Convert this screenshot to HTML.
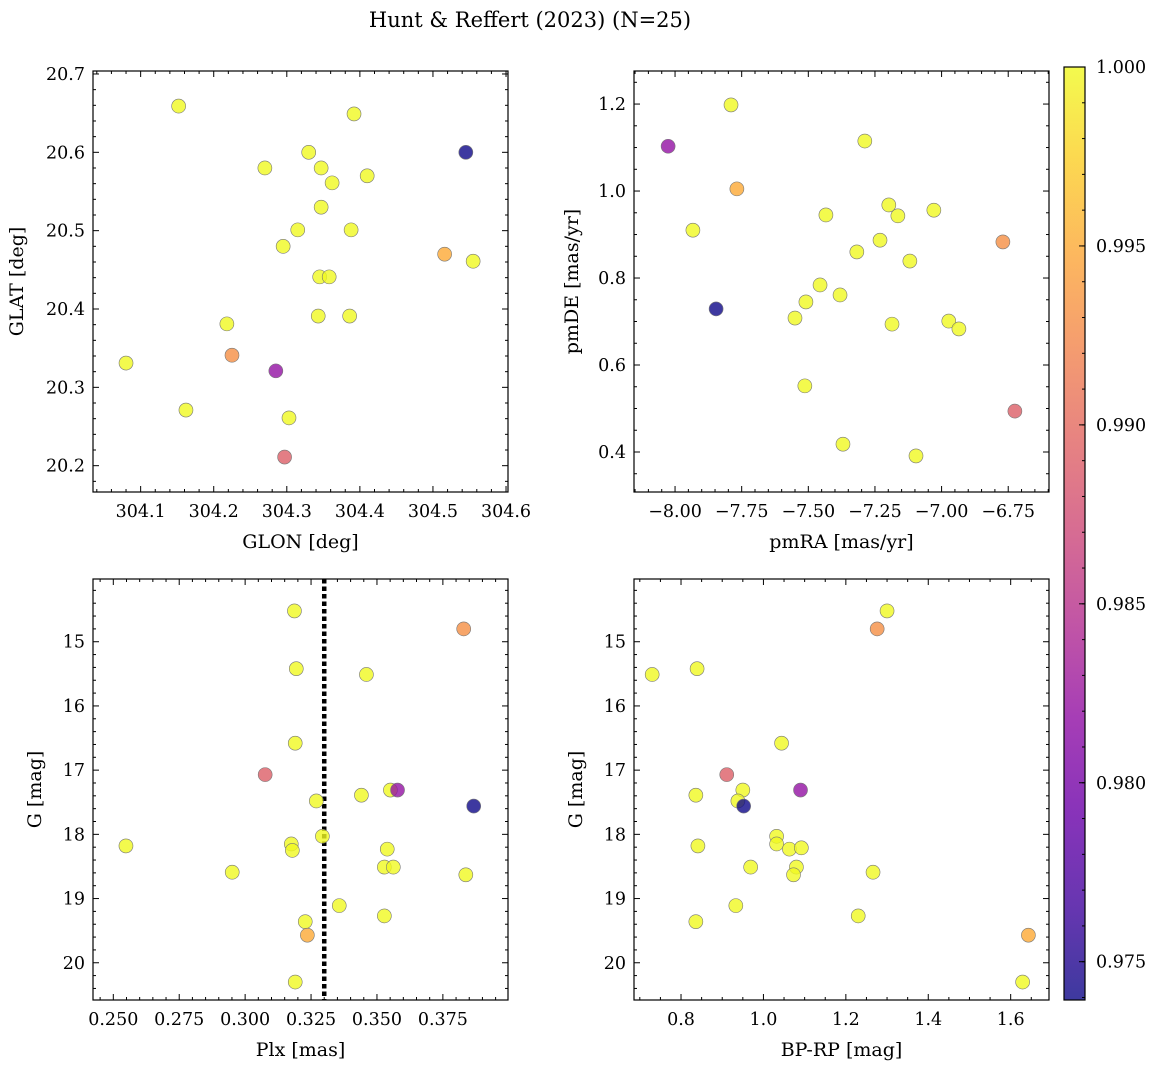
<!DOCTYPE html>
<html><head><meta charset="utf-8"><style>
html,body{margin:0;padding:0;background:#fff;}
svg{display:block;font-family:"DejaVu Serif","Liberation Serif",serif;}
</style></head><body>
<svg id="fig" width="1161" height="1067" viewBox="0 0 1161 1067">
<defs>
<linearGradient id="plasma" x1="0" y1="1" x2="0" y2="0">
<stop offset="0" stop-color="#0d0887"/><stop offset="0.1" stop-color="#41049d"/><stop offset="0.2" stop-color="#6a00a8"/>
<stop offset="0.3" stop-color="#8f0da4"/><stop offset="0.4" stop-color="#b12a90"/><stop offset="0.5" stop-color="#cc4778"/>
<stop offset="0.6" stop-color="#e16462"/><stop offset="0.7" stop-color="#f2844b"/><stop offset="0.8" stop-color="#fca636"/>
<stop offset="0.9" stop-color="#fcce25"/><stop offset="1" stop-color="#f0f921"/>
</linearGradient>
</defs>
<text x="530" y="27" text-anchor="middle" font-size="21">Hunt &amp; Reffert (2023) (N=25)</text>
</svg>
<script>
// Panel 1: GLON vs GLAT
const glon = [304.152,304.392,304.545,304.330,304.270,304.347,304.362,304.410,304.347,304.315,304.388,304.295,304.516,304.555,304.345,304.358,304.343,304.386,304.218,304.080,304.225,304.285,304.162,304.303,304.297];
const glat = [20.659,20.649,20.600,20.600,20.580,20.580,20.561,20.570,20.530,20.501,20.501,20.480,20.470,20.461,20.441,20.441,20.391,20.391,20.381,20.331,20.341,20.321,20.271,20.261,20.211];
const probA = [1,1,0.974,1,1,1,1,1,1,1,1,1,0.995,1,1,1,1,1,1,1,0.993,0.982,1,1,0.989];
// Panel 2: pmRA vs pmDE
const pmra = [-7.790,-8.026,-7.288,-7.768,-7.933,-7.434,-7.198,-7.164,-7.029,-6.770,-7.231,-7.318,-7.119,-7.456,-7.509,-7.381,-7.846,-7.550,-7.186,-6.973,-6.935,-7.513,-6.725,-7.370,-7.096];
const pmde = [1.198,1.103,1.115,1.005,0.910,0.945,0.968,0.943,0.956,0.883,0.887,0.860,0.839,0.784,0.745,0.761,0.729,0.708,0.694,0.701,0.683,0.552,0.494,0.418,0.391];
const probB = [1,0.982,1,0.995,1,1,1,1,1,0.993,1,1,1,1,1,1,0.974,1,1,1,1,1,0.989,1,1];
// Panel 3: Plx vs G
const plx = [0.3187,0.3829,0.3194,0.3460,0.3190,0.3076,0.3441,0.3551,0.3578,0.3270,0.3867,0.3293,0.3175,0.3179,0.3539,0.2548,0.3528,0.3562,0.2951,0.3837,0.3357,0.3528,0.3228,0.3236,0.3190];
const gC = [14.52,14.80,15.42,15.51,16.58,17.07,17.39,17.31,17.31,17.48,17.56,18.03,18.15,18.25,18.23,18.18,18.51,18.51,18.59,18.63,19.11,19.27,19.36,19.57,20.30];
const probC = [1,0.993,1,1,1,0.989,1,1,0.982,1,0.974,1,1,1,1,1,1,1,1,1,1,1,1,0.995,1];
const plxRef = [0.33];
// Panel 4: BP-RP vs G
const bprp = [1.300,1.276,0.839,0.730,1.044,0.911,0.950,1.090,0.836,0.938,0.952,1.032,1.032,1.063,1.092,0.841,0.969,1.080,1.073,1.266,0.933,1.230,0.836,1.643,1.629];
const gD = [14.52,14.80,15.42,15.51,16.58,17.07,17.31,17.31,17.39,17.48,17.56,18.03,18.15,18.23,18.21,18.18,18.51,18.51,18.63,18.59,19.11,19.27,19.36,19.57,20.30];
const probD = [1,0.993,1,1,1,0.989,1,0.982,1,1,0.974,1,1,1,1,1,1,1,1,1,1,1,1,0.995,1];
const cbTicks = [0.975,0.980,0.985,0.990,0.995,1.000];

const VMIN=0.97393, VMAX=1.0;
const NS='http://www.w3.org/2000/svg';
const svg=document.getElementById('fig');
const stops=[[13,8,135],[65,4,157],[106,0,168],[143,13,164],[177,42,144],[204,71,120],[225,100,98],[242,132,75],[252,166,54],[252,206,37],[240,249,33]];
function plasma(v){let t=(v-VMIN)/(VMAX-VMIN);t=Math.max(0,Math.min(1,t))*10;let i=Math.min(9,Math.floor(t)),f=t-i;
 const c=stops[i].map((a,k)=>Math.round(a+(stops[i+1][k]-a)*f));return `rgb(${c[0]},${c[1]},${c[2]})`;}
function el(tag,attrs,parent){const e=document.createElementNS(NS,tag);for(const k in attrs)e.setAttribute(k,attrs[k]);(parent||svg).appendChild(e);return e;}

function panel(o){
 const g=el('g',{});
 
 
 const sx=v=>o.x0+(v-o.xmin)/(o.xmax-o.xmin)*(o.x1-o.x0);
 const sy=o.invert? v=>o.y0+(v-o.ymin)/(o.ymax-o.ymin)*(o.y1-o.y0) : v=>o.y1-(v-o.ymin)/(o.ymax-o.ymin)*(o.y1-o.y0);
 const n0x=Math.ceil(o.xmin/o.xminor-1e-6), n1x=Math.floor(o.xmax/o.xminor+1e-6);
 for(let n=n0x;n<=n1x;n++){
  const v=n*o.xminor;const px=sx(v);const r=v/o.xmajor;const major=Math.abs(r-Math.round(r))<1e-6;const L=major?6:3;
  el('line',{x1:px,x2:px,y1:o.y1,y2:o.y1-L,stroke:'#000','stroke-width':1},g);
  el('line',{x1:px,x2:px,y1:o.y0,y2:o.y0+L,stroke:'#000','stroke-width':1},g);
  if(major){const t=el('text',{x:px,y:o.y1+25,'text-anchor':'middle','font-size':17.5},g);t.textContent=o.xfmt(Math.round(r)*o.xmajor);
   
   }
 }
 const n0y=Math.ceil(o.ymin/o.yminor-1e-6), n1y=Math.floor(o.ymax/o.yminor+1e-6);
 for(let n=n0y;n<=n1y;n++){
  const v=n*o.yminor;const py=sy(v);const r=v/o.ymajor;const major=Math.abs(r-Math.round(r))<1e-6;const L=major?6:3;
  el('line',{x1:o.x0,x2:o.x0+L,y1:py,y2:py,stroke:'#000','stroke-width':1},g);
  el('line',{x1:o.x1,x2:o.x1-L,y1:py,y2:py,stroke:'#000','stroke-width':1},g);
  if(major){const t=el('text',{x:o.x0-8,y:py+6,'text-anchor':'end','font-size':17.5},g);t.textContent=o.yfmt(Math.round(r)*o.ymajor);
   
   }
 }
 if(o.vline){o.vline.forEach(v=>{const l=el('line',{x1:sx(v),x2:sx(v),y1:o.y0,y2:o.y1,stroke:'#000','stroke-width':4.5,'stroke-dasharray':'4.5,3'},g);
  
  });}
 for(let i=0;i<o.xs.length;i++){
  const c=el('circle',{cx:sx(o.xs[i]),cy:sy(o.ys[i]),r:7,fill:plasma(o.ps[i]),'fill-opacity':0.8,stroke:'#777','stroke-width':0.6},g);
  
  
 }
 el('rect',{x:o.x0,y:o.y0,width:o.x1-o.x0,height:o.y1-o.y0,fill:'none',stroke:'#000','stroke-width':1.2},g);
 const xl=el('text',{x:(o.x0+o.x1)/2,y:o.y1+56,'text-anchor':'middle','font-size':19},g);xl.textContent=o.xlabel;
 
 
 const ycx=o.x0-o.ylabOff, ycy=(o.y0+o.y1)/2;
 const yl=el('text',{x:ycx,y:ycy,'text-anchor':'middle','font-size':19,transform:`rotate(-90 ${ycx} ${ycy})`},g);yl.textContent=o.ylabel;
 
 
}
const f=(d)=>v=>v.toFixed(d).replace('-','\u2212');
panel({name:'glon-glat-panel',x0:93,x1:508,y0:71,y1:492,xmin:304.0348,xmax:304.6027,ymin:20.1664,ymax:20.7038,xmajor:0.1,xminor:0.02,ymajor:0.1,yminor:0.02,xfmt:f(1),yfmt:f(1),xs:glon,ys:glat,ps:probA,xlabel:'GLON [deg]',ylabel:'GLAT [deg]',ylabOff:70});
panel({name:'pm-panel',x0:634,x1:1049,y0:71,y1:492,xmin:-8.154,xmax:-6.597,ymin:0.308,ymax:1.276,xmajor:0.25,xminor:0.05,ymajor:0.2,yminor:0.05,xfmt:f(2),yfmt:f(1),xs:pmra,ys:pmde,ps:probB,xlabel:'pmRA [mas/yr]',ylabel:'pmDE [mas/yr]',ylabOff:56});
panel({name:'plx-g-panel',x0:93,x1:508,y0:579,y1:1000,invert:true,xmin:0.2423,xmax:0.3997,ymin:14.023,ymax:20.58,xmajor:0.025,xminor:0.005,ymajor:1,yminor:0.2,xfmt:f(3),yfmt:f(0),xs:plx,ys:gC,ps:probC,vline:plxRef,xlabel:'Plx [mas]',ylabel:'G [mag]',ylabOff:52});
panel({name:'color-g-panel',x0:634,x1:1049,y0:579,y1:1000,invert:true,xmin:0.6859,xmax:1.693,ymin:14.023,ymax:20.58,xmajor:0.2,xminor:0.05,ymajor:1,yminor:0.2,xfmt:f(1),yfmt:f(0),xs:bprp,ys:gD,ps:probD,xlabel:'BP-RP [mag]',ylabel:'G [mag]',ylabOff:52});
// colorbar
const cb=el('g',{});


const cx0=1064,cx1=1085,cy0=67,cy1=1000;
el('rect',{x:cx0,y:cy0,width:cx1-cx0,height:cy1-cy0,fill:'url(#plasma)','fill-opacity':0.8},cb);
el('rect',{x:cx0,y:cy0,width:cx1-cx0,height:cy1-cy0,fill:'none',stroke:'#000','stroke-width':1.2},cb);
const cy=v=>cy1-(v-VMIN)/(VMAX-VMIN)*(cy1-cy0);
for(let n=974;n<=1000;n++){const p=cy(n/1000);el('line',{x1:cx1,x2:cx1-3,y1:p,y2:p,stroke:'#000'},cb);}
cbTicks.forEach(v=>{const p=cy(v);el('line',{x1:cx1,x2:cx1-6,y1:p,y2:p,stroke:'#000'},cb);
 const t=el('text',{x:cx1+11,y:p+6,'font-size':17.5},cb);t.textContent=v.toFixed(3);
 
 });
</script>
</body></html>
